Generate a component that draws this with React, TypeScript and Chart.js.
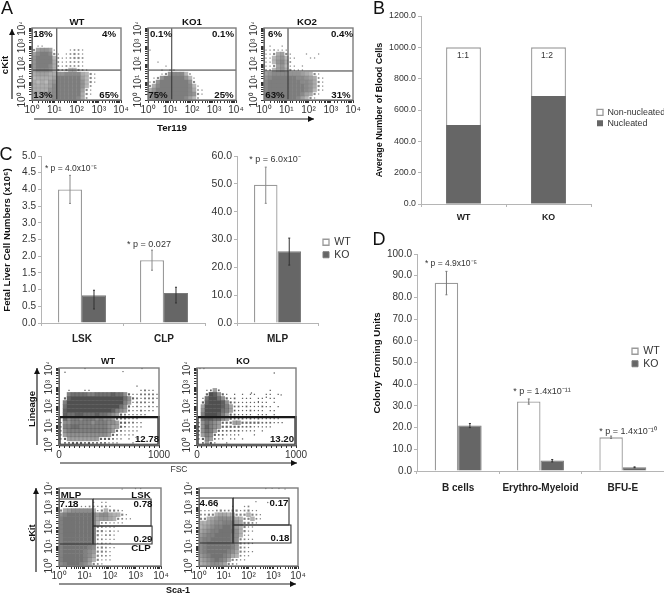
import React, { useEffect, useRef } from "react";
import { Chart, registerables } from "chart.js";

Chart.register(...registerables);
Chart.defaults.font.family = "'Liberation Sans', Arial, sans-serif";

/* ---------- bar chart values ---------- */
const bloodCategories = ["WT", "KO"];
const nucleated = [505, 690];
const nonNucleated = [495, 310];

const lskClpCategories = ["LSK", "CLP"];
const lskClpWT = [4.0, 1.88];
const lskClpKO = [0.83, 0.9];
const lskClpWTLow = [3.58, 1.58];
const lskClpWTHigh = [4.42, 2.18];
const lskClpKOLow = [0.42, 0.6];
const lskClpKOHigh = [0.98, 1.07];

const mlpCategories = ["MLP"];
const mlpWT = [49.7];
const mlpKO = [25.8];
const mlpWTLow = [43];
const mlpWTHigh = [56];
const mlpKOLow = [20.8];
const mlpKOHigh = [30.5];

const cfuCategories = ["B cells", "Erythro-Myeloid", "BFU-E"];
const cfuWT = [86.8, 32, 15.5];
const cfuKO = [21, 4.8, 1.7];
const cfuWTLow = [81.2, 30.8, 15];
const cfuWTHigh = [92, 33.2, 16.1];
const cfuKOLow = [20, 4.2, 1.5];
const cfuKOHigh = [21.9, 5.3, 1.9];

/* ---------- flow plots: event density read per cell, top row first ---------- */
const ter119WT = [
  "0000000000000000000000",
  "0000000000000000000000",
  "0000000000000000000000",
  "0000000000000000000000",
  "0110000000000000000000",
  "3677610001221000000000",
  "6899831012321000000000",
  "7999942112332000000000",
  "7999952112221000000000",
  "7999852122221000000000",
  "6888743234432100000000",
  "5666557788885431000000",
  "4555569999996431000000",
  "5454679999997431000000",
  "5555689999997420000000",
  "5555789999996310000000",
  "6566789999995310000000",
  "5556689999985200000000",
];
const ter119KO1 = [
  "0000000000000000000000",
  "0000000000000000000000",
  "0000000000000000000000",
  "0000000000000000000000",
  "0000000000000000000000",
  "1000000000000000000000",
  "0000000000000000000000",
  "0000000000000000000000",
  "0010000000000000000000",
  "0000100000000000000000",
  "0001011000000000000000",
  "0001378884200000000000",
  "0137999997410000000000",
  "1379999999730000000000",
  "3589999999841000000000",
  "5799999999852100000000",
  "7899999999873100000000",
  "7899999998642000000000",
];
const ter119KO2 = [
  "0000000000000000000000",
  "0000000000000000000000",
  "0000000000000000000000",
  "0000000000000000000000",
  "0100100000000000000000",
  "1121110000000000000000",
  "1135631000100100000000",
  "1146741100011000000000",
  "1147852000000000000000",
  "1136741101000000000000",
  "2246753111000000000000",
  "6788887776543100000000",
  "7899999988765210000000",
  "8999999998875310000000",
  "8999999999875310000000",
  "8999999999874210000000",
  "8999999998653100000000",
  "8999999986431000000000",
];
const lineageWT = [
  "0000000000000000000000000",
  "0000000000000000000000000",
  "0000000000000000000000000",
  "0000000000000000000000000",
  "0000000000000000000100000",
  "0010001100000000000012110",
  "0067777667777877531122221",
  "0389999999999999753212221",
  "0699999999999999641222120",
  "0799999999999997531211211",
  "0899999999999865421121110",
  "0877887778776543211111000",
  "0756656665655432211100000",
  "1556666656665543322110000",
  "1667766666665443211110000",
  "1566666666665432111100000",
  "1455555555554321111000000",
  "1344444444333211010100000",
  "0223332322221110001000000",
];
const lineageKO = [
  "0000000000000000000000000",
  "0000000000000000000000000",
  "0000000000000000000000000",
  "0000000000000000000000000",
  "0000000000000000000000000",
  "0012420000000000001000000",
  "0039853101010110011010000",
  "0179975312011101101100000",
  "0389998532111111110100000",
  "0499998642212111211010000",
  "0599997642111211101100000",
  "0699986432111101110100000",
  "0788775432221212111110000",
  "1576543334433333222111000",
  "2586543333322211111000000",
  "2576432222211110100000000",
  "1465322111100010000000000",
  "1354211011010000000000000",
  "0243100100000000000000000",
];
const sca1WT = [
  "0000000000000000000000000",
  "0000000000000000000000000",
  "0000000000000000000000000",
  "0001100010110000000000000",
  "0011111221221000000000000",
  "3567777741343321000000000",
  "7899999986775443100000000",
  "8999999985665432110000000",
  "8999999984221111000000000",
  "8999999983211100000000000",
  "8999999983312110000000000",
  "8999999983122100000000000",
  "8999999982211100000000000",
  "8999999981211000000000000",
  "8999999872321100000000000",
  "8999998763321000000000000",
  "8999998753221000000000000",
  "8999998643111000000000000",
  "7899987532100000000000000",
];
const sca1KO = [
  "0000000000000000000000000",
  "0000000000000000000000000",
  "0000000000000000000000000",
  "0000000000000000000000000",
  "0000100010012000000000000",
  "1111232233123110000000000",
  "2233455443334321000000000",
  "3345677765433421000000000",
  "4456778886533210000000000",
  "4567889986431100000000000",
  "5678899997431100000000000",
  "6788999987411000000000000",
  "7889999987321100000000000",
  "7899999986322100000000000",
  "7899999986321000000000000",
  "7899999875321100000000000",
  "6789998754211000000000000",
  "5678987532110000000000000",
  "4567765321000000000000000",
];

/* stray events */
const lineageWTStray = [[60, 6000], [260, 9500], [640, 6500], [830, 9500]];
const lineageKOStray = [[30, 9500], [70, 9500], [780, 5500], [620, 180], [700, 300], [550, 500], [850, 400]];
const sca1WTStray = [[300, 9000], [1000, 9500], [1600, 9500]];
const sca1KOStray = [[500, 9500], [900, 9700], [1700, 9500], [3000, 9000], [200, 2000], [600, 1800]];

/* gates, in axis units */
const quadWT = { x: 13, y: 46 };
const quadKO1 = { x: 12, y: 46 };
const quadKO2 = { x: 12, y: 41 };
const lineageGate = [[4, 1], [4, 28], [996, 28], [996, 1], [4, 1]];
const sca1WTGates = [
  [[1, 2740], [21.5, 2740], [21.5, 13.4], [1, 13.4]],
  [[21.5, 2740], [4070, 2740], [4070, 112], [21.5, 112], [21.5, 2740]],
  [[21.5, 112], [4460, 112], [4460, 13.4], [21.5, 13.4], [21.5, 112]],
];
const sca1KOGates = [
  [[1, 3070], [23.7, 3070], [23.7, 15], [1, 15]],
  [[23.7, 3070], [4330, 3070], [4330, 127], [23.7, 127], [23.7, 3070]],
  [[23.7, 127], [5190, 127], [5190, 15], [23.7, 15], [23.7, 127]],
];

const decadeLabels: Record<number, string> = {
  1: "10\u2070",
  10: "10\u00b9",
  100: "10\u00b2",
  1000: "10\u00b3",
  10000: "10\u2074",
};

/* ---------- helpers ---------- */
type Box = { l: number; t: number; r: number; b: number; ml: number; mb: number; mt?: number; mr?: number };

function pinScale(size: number, key: "width" | "height") {
  return (s: any) => {
    s[key] = size;
    s.paddingLeft = s.paddingRight = s.paddingTop = s.paddingBottom = 0;
  };
}

function cells(grid: string[], xLog: boolean, cellW: number, cellH: number, rgb: string) {
  const rows = grid.length;
  const cols = grid[0].length;
  const pts: { x: number; y: number }[] = [];
  const radii: number[] = [];
  const colors: string[] = [];
  const cell = Math.max(cellW, cellH);
  grid.forEach((row, r) => {
    row.split("").forEach((ch, c) => {
      const d = Number(ch);
      if (!d) return;
      const fx = (c + 0.5) / cols;
      pts.push({
        x: xLog ? Math.pow(10, fx * 4) : fx * 1000,
        y: Math.pow(10, 4 - ((r + 0.5) / rows) * 4),
      });
      const side = d >= 4 ? cell + 0.4 : 0.8 + d * 0.45;
      radii.push(side / Math.SQRT2);
      const alpha = d >= 4 ? 0.55 + ((d - 4) / 5) * 0.45 : 0.9;
      colors.push(`rgba(${rgb},${alpha.toFixed(2)})`);
    });
  });
  return { pts, radii, colors };
}

function lineDs(points: number[][], width: number, color: string) {
  return {
    type: "scatter",
    showLine: true,
    data: points.map(([x, y]) => ({ x, y })),
    borderColor: color,
    borderWidth: width,
    pointRadius: 0,
    tension: 0,
    clip: false,
  };
}

const boxPlugin = {
  id: "plotBox",
  afterDatasetsDraw(chart: any) {
    const { left, top, width, height } = chart.chartArea;
    const ctx = chart.ctx;
    ctx.save();
    ctx.strokeStyle = "#7d7d7d";
    ctx.lineWidth = 1.4;
    ctx.strokeRect(left, top, width, height);
    ctx.restore();
  },
};

function flowConfig(
  box: Box,
  grid: string[],
  rgb: string,
  xLinear: boolean,
  gates: any[],
  stray: number[][],
  fontSize: number,
) {
  const cellW = (box.r - box.l) / grid[0].length;
  const cellH = (box.b - box.t) / grid.length;
  const { pts, radii, colors } = cells(grid, !xLinear, cellW, cellH, rgb);
  const xScale: any = xLinear
    ? {
        type: "linear",
        min: 0,
        max: 1000,
        ticks: {
          stepSize: 50,
          autoSkip: false,
          maxRotation: 0,
          padding: 1,
          color: "#333",
          font: { size: fontSize },
          callback: (v: number) => (v === 0 || v === 1000 ? String(v) : ""),
        },
      }
    : {
        type: "logarithmic",
        min: 1,
        max: 10000,
        ticks: {
          autoSkip: false,
          maxRotation: 0,
          padding: 1,
          color: "#333",
          font: { size: fontSize },
          callback: (v: number) => decadeLabels[v] ?? "",
        },
      };
  return {
    type: "scatter",
    data: {
      datasets: [
        ...gates,
        {
          data: stray.map(([x, y]) => ({ x, y })),
          pointRadius: 0.7,
          pointBackgroundColor: `rgb(${rgb})`,
          pointBorderWidth: 0,
        },
        {
          data: pts,
          pointStyle: "rect",
          pointRadius: radii,
          pointBackgroundColor: colors,
          pointBorderWidth: 0,
        },
      ],
    },
    options: {
      responsive: false,
      animation: false,
      events: [],
      layout: { padding: { top: box.mt ?? 0, right: box.mr ?? 0, left: 0, bottom: 0 } },
      plugins: { legend: { display: false }, tooltip: { enabled: false } },
      scales: {
        x: {
          ...xScale,
          afterFit: pinScale(box.mb, "height"),
          border: { color: "#333" },
          grid: { drawOnChartArea: false, tickLength: 3, color: "#333" },
        },
        y: {
          type: "logarithmic",
          min: 1,
          max: 10000,
          afterFit: pinScale(box.ml, "width"),
          border: { color: "#333" },
          grid: { drawOnChartArea: false, tickLength: 3, color: "#333" },
          ticks: {
            autoSkip: false,
            minRotation: 90,
            maxRotation: 90,
            crossAlign: "center",
            padding: -1,
            color: "#333",
            font: { size: fontSize },
            callback: (v: number) => decadeLabels[v] ?? "",
          },
        },
      },
    },
    plugins: [boxPlugin],
  };
}

function errorPlugin(series: { low: number[]; high: number[]; color: string }[]) {
  return {
    id: "errorBars",
    afterDatasetsDraw(chart: any) {
      const ctx = chart.ctx;
      const y = chart.scales.y;
      series.forEach((s, i) => {
        const meta = chart.getDatasetMeta(i);
        meta.data.forEach((bar: any, j: number) => {
          const yl = y.getPixelForValue(s.low[j]);
          const yh = y.getPixelForValue(s.high[j]);
          ctx.save();
          ctx.strokeStyle = s.color;
          ctx.lineWidth = 1;
          ctx.beginPath();
          ctx.moveTo(bar.x, yl);
          ctx.lineTo(bar.x, yh);
          ctx.moveTo(bar.x - 1, yl);
          ctx.lineTo(bar.x + 1, yl);
          ctx.moveTo(bar.x - 1, yh);
          ctx.lineTo(bar.x + 1, yh);
          ctx.stroke();
          ctx.restore();
        });
      });
    },
  };
}

function legendAt(x: number, y: number) {
  return {
    id: "legendAt",
    afterLayout(chart: any) {
      const l = chart.legend;
      if (!l) return;
      const w = l.width;
      const h = l.height;
      l.left = x;
      l.right = x + w;
      l.top = y;
      l.bottom = y + h;
    },
  };
}

const WT_STYLE = { backgroundColor: "#ffffff", borderColor: "#9a9a9a", borderWidth: 1.3 };
const KO_STYLE = { backgroundColor: "#666666", borderColor: "#7a7a7a", borderWidth: 1 };

function barConfig(opts: {
  box: Box;
  labels: string[];
  datasets: any[];
  max: number;
  step: number;
  fontSize: number;
  boldSize: number;
  labelPad: number;
  catPct: number;
  barPct: number;
  stacked?: boolean;
  legend?: { x: number; y: number; size: number; reverse?: boolean };
  errors?: { low: number[]; high: number[]; color: string }[];
}) {
  const { box } = opts;
  const plugins: any[] = [];
  if (opts.legend) plugins.push(legendAt(opts.legend.x - (box.l - box.ml), opts.legend.y - (box.t - (box.mt ?? 0))));
  if (opts.errors) plugins.push(errorPlugin(opts.errors));
  return {
    type: "bar",
    data: {
      labels: opts.labels,
      datasets: opts.datasets.map((d) => ({
        ...d,
        categoryPercentage: opts.catPct,
        barPercentage: opts.barPct,
      })),
    },
    options: {
      responsive: false,
      animation: false,
      events: [],
      layout: { padding: { top: box.mt ?? 0, right: box.mr ?? 0, left: 0, bottom: 0 } },
      plugins: {
        tooltip: { enabled: false },
        legend: opts.legend
          ? {
              display: true,
              position: "chartArea",
              align: "start",
              reverse: !!opts.legend.reverse,
              labels: {
                boxWidth: 6,
                boxHeight: 6,
                padding: 2,
                color: "#333",
                font: { size: opts.legend.size },
              },
            }
          : { display: false },
      },
      scales: {
        x: {
          stacked: !!opts.stacked,
          afterFit: pinScale(box.mb, "height"),
          border: { color: "#b5b5b5" },
          grid: { drawOnChartArea: false, tickLength: 3, color: "#b5b5b5" },
          ticks: {
            padding: opts.labelPad,
            maxRotation: 0,
            autoSkip: false,
            color: "#222",
            font: { size: opts.boldSize, weight: "bold" },
          },
        },
        y: {
          stacked: !!opts.stacked,
          min: 0,
          max: opts.max,
          afterFit: pinScale(box.ml, "width"),
          border: { color: "#b5b5b5" },
          grid: { drawOnChartArea: false, tickLength: 3, color: "#b5b5b5" },
          ticks: {
            stepSize: opts.step,
            padding: 2,
            color: "#333",
            font: { size: opts.fontSize },
            callback: (v: number) => Number(v).toFixed(1),
          },
        },
      },
    },
    plugins,
  };
}

function PlotCanvas({ box, config }: { box: Box; config: any }) {
  const ref = useRef<HTMLCanvasElement>(null);
  const left = box.l - box.ml;
  const top = box.t - (box.mt ?? 0);
  const width = box.r - box.l + box.ml + (box.mr ?? 0);
  const height = box.b - box.t + box.mb + (box.mt ?? 0);
  useEffect(() => {
    const chart = new Chart(ref.current as HTMLCanvasElement, config);
    return () => chart.destroy();
  }, []);
  return (
    <canvas
      ref={ref}
      width={width}
      height={height}
      style={{ position: "absolute", left, top, width, height, display: "block" }}
    />
  );
}

function T({
  x,
  y,
  s = 9.7,
  b = false,
  r = 0,
  c = "#111",
  children,
}: {
  x: number;
  y: number;
  s?: number;
  b?: boolean;
  r?: number;
  c?: string;
  children: React.ReactNode;
}) {
  return (
    <div
      style={{
        position: "absolute",
        left: x,
        top: y,
        transform: `translate(-50%,-50%) rotate(${r}deg)`,
        fontSize: s,
        fontWeight: b ? "bold" : "normal",
        color: c,
        whiteSpace: "nowrap",
        lineHeight: 1,
        fontFamily: "'Liberation Sans', Arial, sans-serif",
      }}
    >
      {children}
    </div>
  );
}

function Arrow({ x1, y1, x2, y2 }: { x1: number; y1: number; x2: number; y2: number }) {
  const horizontal = y1 === y2;
  const head = horizontal
    ? `${x2},${y2} ${x2 - 6},${y2 - 3} ${x2 - 6},${y2 + 3}`
    : `${x2},${y2} ${x2 - 3},${y2 + 6} ${x2 + 3},${y2 + 6}`;
  return (
    <g>
      <line x1={x1} y1={y1} x2={x2} y2={y2} stroke="#222" strokeWidth={1.2} />
      <polygon points={head} fill="#111" />
    </g>
  );
}

/* ---------- layout ---------- */
const flowA = { mb: 20, ml: 20, mr: 12, mt: 6 };
const boxAWT: Box = { l: 32, t: 28, r: 121, b: 100, ...flowA };
const boxAKO1: Box = { l: 148, t: 28, r: 236, b: 100, ...flowA };
const boxAKO2: Box = { l: 264, t: 28, r: 353, b: 100, ...flowA };
const boxLinWT: Box = { l: 59, t: 368, r: 159, b: 445, ...flowA };
const boxLinKO: Box = { l: 197, t: 368, r: 296, b: 445, ...flowA };
const boxScaWT: Box = { l: 59, t: 488, r: 161, b: 566, ...flowA };
const boxScaKO: Box = { l: 199, t: 488, r: 298, b: 566, ...flowA };
const boxB: Box = { l: 421, t: 16, r: 591, b: 204, ml: 34, mb: 20, mt: 6, mr: 73 };
const boxC1: Box = { l: 41, t: 156, r: 205, b: 323, ml: 22, mb: 22, mt: 6, mr: 4 };
const boxC2: Box = { l: 237, t: 156, r: 318, b: 323, ml: 28, mb: 22, mt: 6, mr: 40 };
const boxD: Box = { l: 417, t: 254, r: 664, b: 471, ml: 34, mb: 24, mt: 6, mr: 0 };

const RGB_A = "125,125,125";
const RGB_LIN = "80,80,80";
const RGB_SCA = "115,115,115";

const quad = (q: { x: number; y: number }) => [
  lineDs([[1, q.y], [10000, q.y]], 1, "#333"),
  lineDs([[q.x, 1], [q.x, 10000]], 1, "#333"),
];
const gateLines = (paths: number[][][]) => paths.map((p) => lineDs(p, 1.1, "#333"));

const cfgAWT = flowConfig(boxAWT, ter119WT, RGB_A, false, quad(quadWT), [], 10);
const cfgAKO1 = flowConfig(boxAKO1, ter119KO1, RGB_A, false, quad(quadKO1), [], 10);
const cfgAKO2 = flowConfig(boxAKO2, ter119KO2, RGB_A, false, quad(quadKO2), [], 10);
const cfgLinWT = flowConfig(boxLinWT, lineageWT, RGB_LIN, true, [lineDs(lineageGate, 2.4, "#1a1a1a")], lineageWTStray, 10);
const cfgLinKO = flowConfig(boxLinKO, lineageKO, RGB_LIN, true, [lineDs(lineageGate, 2.4, "#1a1a1a")], lineageKOStray, 10);
const cfgScaWT = flowConfig(boxScaWT, sca1WT, RGB_SCA, false, gateLines(sca1WTGates), sca1WTStray, 10);
const cfgScaKO = flowConfig(boxScaKO, sca1KO, RGB_SCA, false, gateLines(sca1KOGates), sca1KOStray, 10);

const cfgB = barConfig({
  box: boxB,
  labels: bloodCategories,
  datasets: [
    { label: "Nucleated", data: nucleated, ...KO_STYLE, borderWidth: 0 },
    { label: "Non-nucleated", data: nonNucleated, ...WT_STYLE },
  ],
  max: 1200,
  step: 200,
  fontSize: 8.8,
  boldSize: 8.8,
  labelPad: 5,
  catPct: 0.41,
  barPct: 1,
  stacked: true,
  legend: { x: 595, y: 106, size: 8.9, reverse: true },
});
const cfgC1 = barConfig({
  box: boxC1,
  labels: lskClpCategories,
  datasets: [
    { label: "WT", data: lskClpWT, ...WT_STYLE },
    { label: "KO", data: lskClpKO, ...KO_STYLE },
  ],
  max: 5,
  step: 0.5,
  fontSize: 10,
  boldSize: 10,
  labelPad: 7,
  catPct: 0.585,
  barPct: 1,
  errors: [
    { low: lskClpWTLow, high: lskClpWTHigh, color: "#8a8a8a" },
    { low: lskClpKOLow, high: lskClpKOHigh, color: "#333" },
  ],
});
const cfgC2 = barConfig({
  box: boxC2,
  labels: mlpCategories,
  datasets: [
    { label: "WT", data: mlpWT, ...WT_STYLE },
    { label: "KO", data: mlpKO, ...KO_STYLE },
  ],
  max: 60,
  step: 10,
  fontSize: 10.5,
  boldSize: 10,
  labelPad: 7,
  catPct: 0.58,
  barPct: 1,
  legend: { x: 321, y: 235, size: 10.5 },
  errors: [
    { low: mlpWTLow, high: mlpWTHigh, color: "#8a8a8a" },
    { low: mlpKOLow, high: mlpKOHigh, color: "#333" },
  ],
});
const cfgD = barConfig({
  box: boxD,
  labels: cfuCategories,
  datasets: [
    { label: "WT", data: cfuWT, ...WT_STYLE },
    { label: "KO", data: cfuKO, ...KO_STYLE },
  ],
  max: 100,
  step: 10,
  fontSize: 10,
  boldSize: 10,
  labelPad: 8,
  catPct: 0.57,
  barPct: 1,
  legend: { x: 630, y: 344, size: 10.5 },
  errors: [
    { low: cfuWTLow, high: cfuWTHigh, color: "#777" },
    { low: cfuKOLow, high: cfuKOHigh, color: "#333" },
  ],
});

export default function App() {
  return (
    <div
      style={{
        position: "absolute",
        left: 0,
        top: 0,
        width: 664,
        height: 594,
        overflow: "hidden",
        background: "#fff",
        filter: "blur(0.4px)",
      }}
    >
      <PlotCanvas box={boxAWT} config={cfgAWT} />
      <PlotCanvas box={boxAKO1} config={cfgAKO1} />
      <PlotCanvas box={boxAKO2} config={cfgAKO2} />
      <PlotCanvas box={boxB} config={cfgB} />
      <PlotCanvas box={boxC1} config={cfgC1} />
      <PlotCanvas box={boxC2} config={cfgC2} />
      <PlotCanvas box={boxD} config={cfgD} />
      <PlotCanvas box={boxLinWT} config={cfgLinWT} />
      <PlotCanvas box={boxLinKO} config={cfgLinKO} />
      <PlotCanvas box={boxScaWT} config={cfgScaWT} />
      <PlotCanvas box={boxScaKO} config={cfgScaKO} />

      <svg width={664} height={594} style={{ position: "absolute", left: 0, top: 0 }}>
        <Arrow x1={12} y1={99} x2={12} y2={29} />
        <Arrow x1={34} y1={119} x2={314} y2={119} />
        <Arrow x1={37} y1={445} x2={37} y2={368} />
        <Arrow x1={60} y1={463} x2={297} y2={463} />
        <Arrow x1={36} y1={572} x2={36} y2={488} />
        <Arrow x1={59} y1={584} x2={296} y2={584} />
      </svg>

      <T x={7} y={8} s={18}>A</T>
      <T x={379} y={8} s={18}>B</T>
      <T x={6} y={154} s={18}>C</T>
      <T x={379} y={239} s={18}>D</T>

      <T x={77} y={22} b>WT</T>
      <T x={192} y={22} b>KO1</T>
      <T x={307} y={22} b>KO2</T>
      <T x={5} y={65} b r={-90}>cKit</T>
      <T x={172} y={128} b>Ter119</T>
      <T x={43} y={34} b>18%</T>
      <T x={109} y={34} b>4%</T>
      <T x={43} y={95} b>13%</T>
      <T x={109} y={95} b>65%</T>
      <T x={161} y={34} b>0.1%</T>
      <T x={223} y={34} b>0.1%</T>
      <T x={158} y={95} b>75%</T>
      <T x={224} y={95} b>25%</T>
      <T x={275} y={34} b>6%</T>
      <T x={342} y={34} b>0.4%</T>
      <T x={275} y={95} b>63%</T>
      <T x={341} y={95} b>31%</T>

      <T x={379} y={110} s={9} b r={-90}>Average Number of Blood Cells</T>
      <T x={463} y={55} s={8.5} c="#333">1:1</T>
      <T x={547} y={55} s={8.5} c="#333">1:2</T>

      <T x={7} y={240} s={9.7} b r={-90}>Fetal Liver Cell Numbers (x10⁶)</T>
      <T x={71} y={168} s={8.5} c="#333">* p = 4.0x10⁻⁵</T>
      <T x={149} y={244} s={9} c="#333">* p = 0.027</T>
      <T x={275} y={159} s={9} c="#333">* p = 6.0x10⁻</T>

      <T x={377} y={363} s={9.7} b r={-90}>Colony Forming Units</T>
      <T x={451} y={263} s={8.5} c="#333">* p = 4.9x10⁻⁵</T>
      <T x={542} y={391} s={9} c="#333">* p = 1.4x10⁻¹¹</T>
      <T x={628} y={431} s={9} c="#333">* p = 1.4x10⁻¹⁰</T>

      <T x={108} y={361} s={9} b>WT</T>
      <T x={243} y={361} s={9} b>KO</T>
      <T x={32} y={409} s={9.5} b r={-90}>Lineage</T>
      <T x={179} y={469} s={8.5} c="#333">FSC</T>
      <T x={147} y={439} b>12.78</T>
      <T x={282} y={439} b>13.20</T>

      <T x={32} y={533} s={9} b r={-90}>cKit</T>
      <T x={178} y={590} s={9} b>Sca-1</T>
      <T x={71} y={495} b>MLP</T>
      <T x={69} y={504} b>7.18</T>
      <T x={141} y={495} b>LSK</T>
      <T x={143} y={504} b>0.78</T>
      <T x={143} y={539} b>0.29</T>
      <T x={141} y={548} b>CLP</T>
      <T x={209} y={503} b>4.66</T>
      <T x={279} y={503} b>0.17</T>
      <T x={280} y={538} b>0.18</T>
    </div>
  );
}
